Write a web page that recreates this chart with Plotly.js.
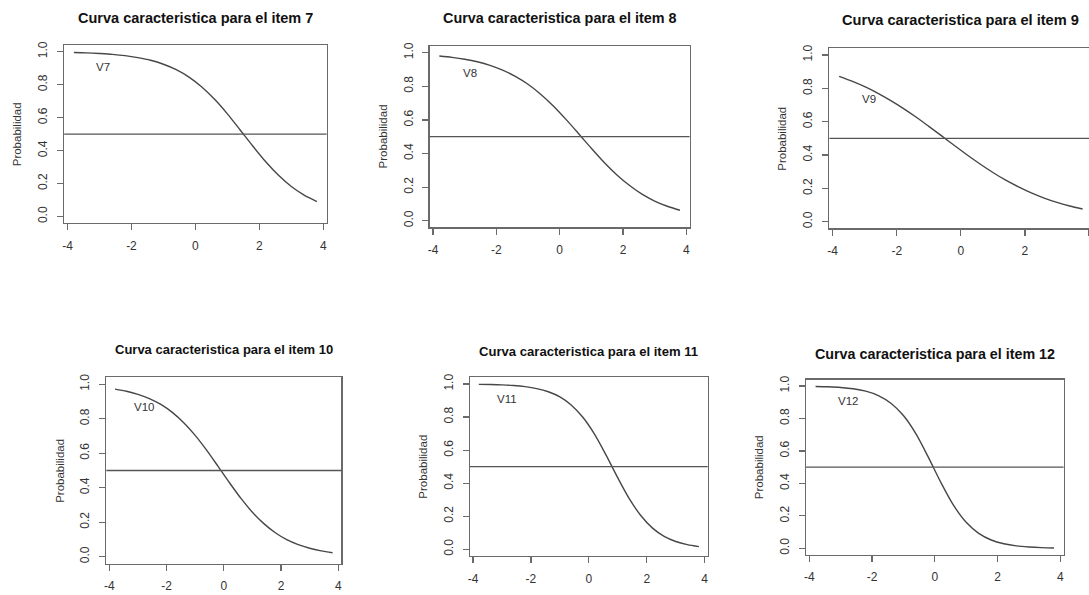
<!DOCTYPE html>
<html>
<head>
<meta charset="utf-8">
<script src="https://cdn.plot.ly/plotly-3.0.1.min.js"></script>
<style>
html,body{margin:0;padding:0;background:#ffffff;}
#chart{width:1089px;height:595px;}
</style>
</head>
<body>
<div id="chart"></div>
<script>
// ---------- data ----------
const theta = [-3.8, -3.4, -3.0, -2.6, -2.2, -1.8, -1.4, -1.0, -0.6, -0.2, 0.2, 0.6, 1.0, 1.4, 1.8, 2.2, 2.6, 3.0, 3.4, 3.8];
const probV7  = [0.995, 0.993, 0.989, 0.984, 0.976, 0.964, 0.948, 0.924, 0.891, 0.846, 0.786, 0.711, 0.623, 0.525, 0.426, 0.332, 0.250, 0.182, 0.130, 0.091];
const probV8  = [0.980, 0.972, 0.961, 0.946, 0.925, 0.896, 0.859, 0.812, 0.753, 0.683, 0.603, 0.518, 0.431, 0.348, 0.274, 0.211, 0.158, 0.117, 0.086, 0.062];
const probV9  = [0.872, 0.843, 0.810, 0.772, 0.728, 0.680, 0.628, 0.572, 0.515, 0.457, 0.400, 0.346, 0.295, 0.249, 0.209, 0.173, 0.142, 0.116, 0.094, 0.076];
const probV10 = [0.972, 0.960, 0.942, 0.917, 0.883, 0.837, 0.777, 0.704, 0.618, 0.524, 0.429, 0.338, 0.258, 0.192, 0.139, 0.099, 0.070, 0.049, 0.034, 0.023];
const probV11 = [0.998, 0.997, 0.995, 0.991, 0.984, 0.972, 0.953, 0.922, 0.872, 0.797, 0.695, 0.568, 0.432, 0.305, 0.203, 0.128, 0.078, 0.047, 0.028, 0.016];
const probV12 = [0.997, 0.995, 0.991, 0.983, 0.968, 0.941, 0.894, 0.818, 0.705, 0.559, 0.403, 0.264, 0.160, 0.092, 0.051, 0.028, 0.015, 0.008, 0.004, 0.002];
const itemNames = ['V7', 'V8', 'V9', 'V10', 'V11', 'V12'];
const itemNumbers = [7, 8, 9, 10, 11, 12];
const xTickVals = [-4, -2, 0, 2, 4];
const xTickText = ['-4', '-2', '0', '2', '4'];
const yTickVals = [0, 0.2, 0.4, 0.6, 0.8, 1.0];
const yTickText = ['0.0', '0.2', '0.4', '0.6', '0.8', '1.0'];
const refLevel = 0.5;
const titlePrefix = 'Curva caracteristica para el item ';
const yTitleText = 'Probabilidad';
const series = [probV7, probV8, probV9, probV10, probV11, probV12];

// ---------- layout geometry (pixels in the 1089x595 page) ----------
const W = 1089, H = 595;
const geom = [
  {xm4: 67.5,  xp4: 323.3,  y1: 51.7,  y0: 216.5, tx: 17.5,  ts: 14.5, lx: -2.88, ly: 0.91,  mirrorY: true},
  {xm4: 433.0, xp4: 686.3,  y1: 52.7,  y0: 220.7, tx: 17.5,  ts: 14.4, lx: -2.84, ly: 0.88,  mirrorY: true},
  {xm4: 832.7, xp4: 1089.0, y1: 55.0,  y0: 221.7, tx: 20.5,  ts: 14.6, lx: -2.86, ly: 0.736, mirrorY: false},
  {xm4: 109.3, xp4: 338.3,  y1: 384.3, y0: 556.7, tx: 349.8, ts: 13.0, lx: -2.79, ly: 0.867, mirrorY: true},
  {xm4: 473.0, xp4: 704.7,  y1: 384.0, y0: 549.3, tx: 351.2, ts: 13.1, lx: -2.83, ly: 0.907, mirrorY: true},
  {xm4: 809.3, xp4: 1060.3, y1: 386.0, y0: 548.3, tx: 353.8, ts: 14.3, lx: -2.78, ly: 0.907, mirrorY: true}
];

const FONT = 'Liberation Sans, Arial, Helvetica, sans-serif';
const AXC = '#6a6a6a';
const TXT = '#333333';

const traces = [];
const layout = {
  width: W, height: H,
  margin: {l: 0, r: 0, t: 0, b: 0, pad: 0},
  paper_bgcolor: '#ffffff', plot_bgcolor: '#ffffff',
  showlegend: false,
  font: {family: FONT, color: TXT, size: 12},
  annotations: [], shapes: []
};

geom.forEach((g, i) => {
  const n = i + 1;
  const xs = n === 1 ? '' : String(n);
  const ppx = (g.xp4 - g.xm4) / 8;
  const ppy = (g.y0 - g.y1);
  const boxL = g.xm4 - 0.104 * ppx;
  const boxRfull = g.xp4 + 0.104 * ppx;
  const boxR = Math.min(W, boxRfull);
  const boxT = g.y1 - 0.04 * ppy;
  const boxB = g.y0 + 0.04 * ppy;
  const xr = [-4 - (g.xm4 - boxL) / ppx, 4 + (boxR - g.xp4) / ppx];
  const yr = [-0.04, 1.04];

  traces.push({
    type: 'scatter', mode: 'lines',
    x: theta, y: series[i],
    xaxis: 'x' + xs, yaxis: 'y' + xs,
    line: {color: '#474747', width: 1.4, shape: 'spline', smoothing: 0.8},
    hoverinfo: 'skip'
  });

  layout['xaxis' + xs] = {
    domain: [boxL / W, boxR / W], range: xr, anchor: 'y' + xs,
    showgrid: false, zeroline: false,
    showline: true, mirror: true, linecolor: AXC, linewidth: 1.3,
    ticks: 'outside', ticklen: 6, tickwidth: 1.2, tickcolor: AXC,
    tickmode: 'array', tickvals: xTickVals, ticktext: xTickText,
    tickfont: {family: FONT, size: 12, color: TXT},
    ticklabelstandoff: 5, fixedrange: true
  };
  layout['yaxis' + xs] = {
    domain: [1 - boxB / H, 1 - boxT / H], range: yr, anchor: 'x' + xs,
    showgrid: false, zeroline: false,
    showline: true, mirror: g.mirrorY, linecolor: AXC, linewidth: 1.3,
    ticks: 'outside', ticklen: 6, tickwidth: 1.2, tickcolor: AXC,
    tickmode: 'array', tickvals: yTickVals, ticktext: yTickText,
    tickangle: -90,
    tickfont: {family: FONT, size: 12, color: TXT},
    ticklabelstandoff: 5, fixedrange: true
  };

  // reference line at P = 0.5
  layout.shapes.push({
    type: 'line', xref: 'x' + xs + ' domain', yref: 'y' + xs,
    x0: 0, x1: 1, y0: refLevel, y1: refLevel,
    line: {color: '#555555', width: 1.3}
  });

  // panel title
  layout.annotations.push({
    xref: 'paper', yref: 'paper', x: ((boxL + boxRfull) / 2) / W, y: 1 - g.tx / H,
    xanchor: 'center', yanchor: 'middle', showarrow: false,
    text: '<b>' + titlePrefix + itemNumbers[i] + '</b>',
    font: {family: FONT, size: g.ts, color: '#111111'}
  });
  // y axis title
  layout.annotations.push({
    xref: 'paper', yref: 'paper', x: (boxL - 47) / W, y: 1 - ((boxT + boxB) / 2) / H,
    xanchor: 'center', yanchor: 'middle', showarrow: false, textangle: -90,
    text: yTitleText,
    font: {family: FONT, size: 11.5, color: TXT}
  });
  // item label inside the plot
  layout.annotations.push({
    xref: 'x' + xs, yref: 'y' + xs, x: g.lx, y: g.ly,
    xanchor: 'center', yanchor: 'middle', showarrow: false,
    text: itemNames[i],
    font: {family: FONT, size: 11.5, color: TXT}
  });
});

Plotly.newPlot('chart', traces, layout, {staticPlot: true, displayModeBar: false});
</script>
</body>
</html>
